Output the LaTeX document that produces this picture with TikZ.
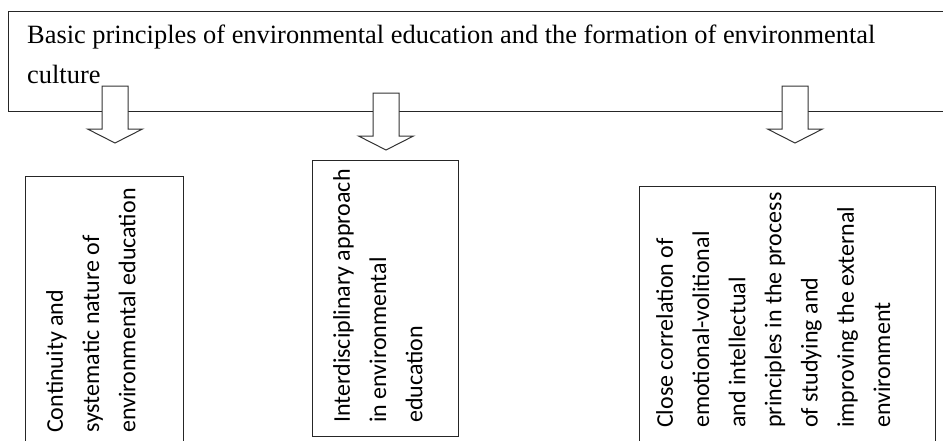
\documentclass[tikz,border=0pt]{standalone}
\usepackage{fontspec}
\setmainfont{Liberation Serif}
\newfontfamily\boxfont{Carlito}

\tikzset{
    frame/.style = {draw=black!85, line width=1pt, rectangle, inner sep=0pt, anchor=north west},
    toptext/.style = {font=\fontsize{26.4}{39.5}\selectfont, align=left, inner sep=0pt, anchor=north west},
    sidetext/.style = {font=\boxfont\fontsize{24}{36.2}\selectfont, align=left, inner sep=0pt, rotate=90, anchor=north west},
    downarrow/.pic = {
        \draw[draw=black!80, line width=1pt, fill=white]
            (-13,0) -- (13,0) -- (13,43) -- (27.5,43) -- (0,57) -- (-27.5,43) -- (-13,43) -- cycle;
    }
}

\begin{document}
\begin{tikzpicture}[x=1pt, y=-1pt]
    \useasboundingbox (0,0) rectangle (943,440);

    % heading box
    \node[frame, line width=1.3pt, minimum width=960pt, minimum height=100pt] (principles) at (8,11) {};
    \node[toptext] (title) at (27,25)
        {Basic principles of environmental education and the formation of environmental\\culture};

    % arrows down to the three principles
    \foreach \ax/\ay in {115/86, 386/93, 795/86}
        \pic at (\ax,\ay) {downarrow};

    % the three principles
    \node[frame, minimum width=158pt, minimum height=294pt] (continuity) at (25,176) {};
    \node[sidetext] (continuitytext) at (46,433)
        {Continuity and\\systematic nature of\\environmental education};

    \node[frame, minimum width=146pt, minimum height=276pt] (interdisc) at (312,160) {};
    \node[sidetext] (interdisctext) at (333,423)
        {Interdisciplinary approach\\in environmental\\education};

    \node[frame, minimum width=296pt, minimum height=294pt] (correlation) at (639,186) {};
    \node[sidetext] (correlationtext) at (656,428)
        {Close correlation of\\emotional-volitional\\and intellectual\\principles in the process\\of studying and\\improving the external\\environment};
\end{tikzpicture}
\end{document}
